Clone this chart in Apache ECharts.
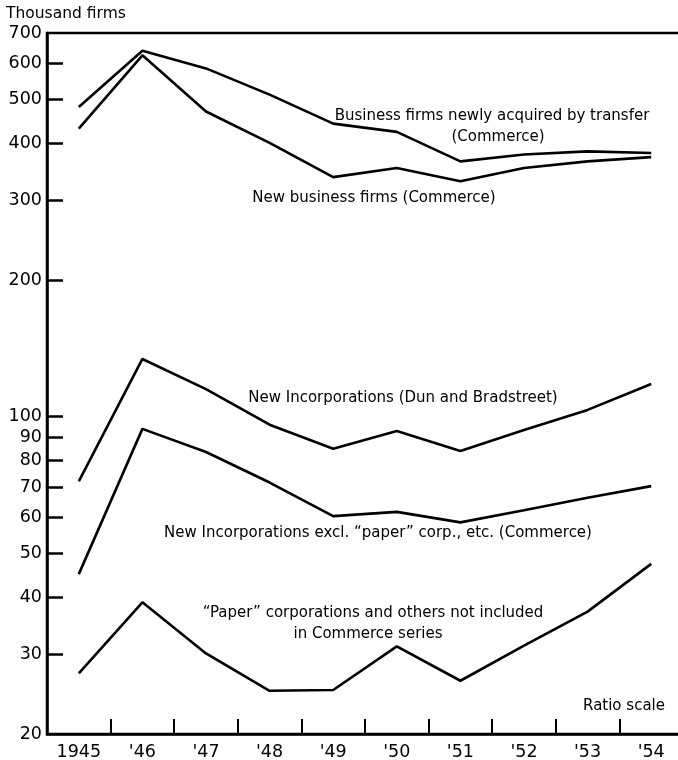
<!DOCTYPE html>
<html><head><meta charset="utf-8">
<script src="https://cdn.jsdelivr.net/npm/echarts@6/dist/echarts.min.js"></script>
<style>html,body{margin:0;padding:0;background:#fff}#c{width:678px;height:760px}</style>
</head><body><div id="c"></div>
<script>
const years = ['1945', "'46", "'47", "'48", "'49", "'50", "'51", "'52", "'53", "'54"];
const transferFirms = [481, 640, 585, 512, 442, 424, 365, 378, 384, 381];
const newFirms = [431, 625, 470, 401, 337, 353, 330, 353, 365, 373];
const incDunBrad = [72, 134, 115, 96, 85, 93, 84, 93.5, 103.5, 118];
const incCommerce = [45, 94, 83.6, 71.6, 60.4, 61.7, 58.5, 62.2, 66.3, 70.3];
const paperCorps = [27.2, 39, 30.1, 24.9, 25, 31.2, 26.2, 31.3, 37.2, 47.4];
const yLabelValues = [20, 30, 40, 50, 60, 70, 80, 90, 100, 200, 300, 400, 500, 600, 700];
const yTickValues = [30, 40, 50, 60, 70, 80, 90, 100, 200, 300, 400, 500, 600];

const FONT = 'DejaVu Sans';
const chart = echarts.init(document.getElementById('c'), null, {renderer: 'canvas'});
const mk = (name, data) => ({
  name, type: 'line', data, symbol: 'none', silent: true,
  lineStyle: {color: '#000', width: 2.6}, animation: false
});
const txt = (x, y, text, align, size) => ({
  type: 'text', x, y, silent: true,
  style: {text, fill: '#000', font: '500 ' + (size || 15) + 'px "' + FONT + '"', textAlign: align || 'center', textVerticalAlign: 'middle'}
});
chart.setOption({
  animation: false,
  backgroundColor: '#fff',
  grid: {left: 47, top: 33, width: 636, height: 701, outerBoundsMode: 'none', containLabel: false, show: true, borderColor: '#000', borderWidth: 2.5, backgroundColor: 'transparent'},
  xAxis: {
    type: 'category', data: years, boundaryGap: true,
    axisLine: {show: true, lineStyle: {color: '#000', width: 2.5}},
    axisTick: {show: true, alignWithLabel: false, interval: 0, inside: true, length: 15, lineStyle: {color: '#000', width: 2}},
    axisLabel: {color: '#000', fontFamily: FONT, fontSize: 17.5, margin: 9, interval: 0}
  },
  yAxis: {
    type: 'log', logBase: 10, min: 20, max: 700,
    splitLine: {show: false},
    axisLine: {show: true, lineStyle: {color: '#000', width: 2.5}},
    axisTick: {show: true, inside: true, length: 16, customValues: yTickValues, lineStyle: {color: '#000', width: 2.5}},
    axisLabel: {color: '#000', fontFamily: FONT, fontSize: 17.5, margin: 5, customValues: yLabelValues}
  },
  series: [
    mk('Business firms newly acquired by transfer (Commerce)', transferFirms),
    mk('New business firms (Commerce)', newFirms),
    mk('New Incorporations (Dun and Bradstreet)', incDunBrad),
    mk('New Incorporations excl. "paper" corp., etc. (Commerce)', incCommerce),
    mk('"Paper" corporations and others not included in Commerce series', paperCorps)
  ],
  graphic: [
    txt(6, 14, 'Thousand firms', 'left', 15.5),
    txt(492, 116, 'Business firms newly acquired by transfer'),
    txt(498, 137, '(Commerce)'),
    txt(374, 198, 'New business firms (Commerce)'),
    txt(403, 398, 'New Incorporations (Dun and Bradstreet)'),
    txt(378, 533, 'New Incorporations excl. \u201cpaper\u201d corp., etc. (Commerce)'),
    txt(373, 613, '\u201cPaper\u201d corporations and others not included'),
    txt(368, 634, 'in Commerce series'),
    txt(624, 706, 'Ratio scale')
  ]
});
</script></body></html>
